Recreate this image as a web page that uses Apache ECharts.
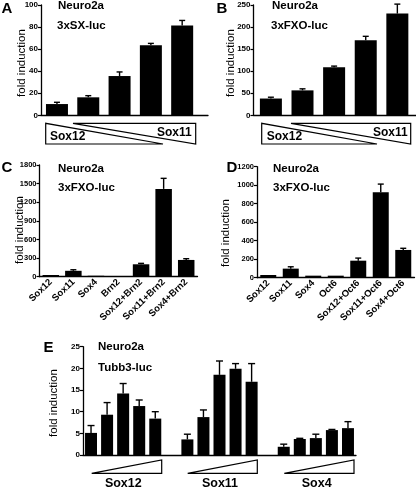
<!DOCTYPE html>
<html><head><meta charset="utf-8">
<script src="https://cdn.jsdelivr.net/npm/echarts@6/dist/echarts.min.js"></script>
<style>html,body{margin:0;padding:0;background:#fff}#c{width:416px;height:489px}</style>
</head><body><div id="c"></div>
<script>
// ---- data ----
const valuesA = [10.2, 16.3, 35.6, 63.5, 81.5];
const errorsA = [11.8, 17.8, 39.3, 65.2, 86.0];
const ticksA = [0, 20, 40, 60, 80, 100];

const valuesB = [38, 56.5, 109, 170, 230.5];
const errorsB = [41, 60, 111.5, 179, 252];
const ticksB = [0, 50, 100, 150, 200, 250];

const categoriesC = ['Sox12', 'Sox11', 'Sox4', 'Brn2', 'Sox12+Brn2', 'Sox11+Brn2', 'Sox4+Brn2'];
const valuesC = [27, 95, 15, 10, 200, 1415, 270];
const errorsC = [27, 112, 15, 10, 215, 1585, 290];
const ticksC = [0, 300, 600, 900, 1200, 1500, 1800];

const categoriesD = ['Sox12', 'Sox11', 'Sox4', 'Oct6', 'Sox12+Oct6', 'Sox11+Oct6', 'Sox4+Oct6'];
const valuesD = [29, 98, 22, 22, 184, 925, 300];
const errorsD = [29, 118, 22, 22, 212, 1012, 318];
const ticksD = [0, 200, 400, 600, 800, 1000, 1200];

const groupsE = ['Sox12', 'Sox11', 'Sox4'];
const valuesE = [[5.1, 9.3, 14.2, 11.3, 8.4], [3.6, 8.75, 18.5, 19.9, 16.9], [1.9, 3.7, 3.9, 5.75, 6.2]];
const errorsE = [[6.8, 12.1, 16.5, 12.7, 10.0], [4.8, 10.4, 21.7, 21.1, 21.1], [2.5, 3.85, 4.8, 5.9, 7.7]];
const ticksE = [0, 5, 10, 15, 20, 25];

// ---- helpers ----
const FONT = "'Liberation Sans', Arial, sans-serif";
const BLACK = '#000';

function yAxisFor(gi, ticks, fs) {
  return {
    type: 'value', gridIndex: gi, min: ticks[0], max: ticks[ticks.length - 1],
    interval: ticks[1] - ticks[0],
    axisLine: { show: true, onZero: false, lineStyle: { color: BLACK, width: 1.3 } },
    axisTick: { show: true, length: 3, lineStyle: { color: BLACK, width: 1.2 } },
    axisLabel: { color: BLACK, fontSize: fs, fontWeight: 'bold', fontFamily: FONT, margin: 3,
      formatter: v => String(v) },
    splitLine: { show: false }
  };
}
function errItem(capHalf) {
  return function (params, api) {
    const x = api.value(0), v = api.value(1), e = api.value(2);
    if (!(e > v)) return;
    const p0 = api.coord([x, v]);
    const p1 = api.coord([x, e]);
    const st = { stroke: BLACK, lineWidth: 1.4 };
    return {
      type: 'group', children: [
        { type: 'line', shape: { x1: p0[0], y1: p0[1], x2: p1[0], y2: p1[1] }, style: st },
        { type: 'line', shape: { x1: p1[0] - capHalf, y1: p1[1], x2: p1[0] + capHalf, y2: p1[1] }, style: st }
      ]
    };
  };
}
function barSeries(xi, yi, data, w) {
  return { type: 'bar', xAxisIndex: xi, yAxisIndex: yi, data: data, barWidth: w,
    itemStyle: { color: BLACK }, silent: true, animation: false };
}
function errSeries(xi, yi, data, cap) {
  return { type: 'custom', xAxisIndex: xi, yAxisIndex: yi, data: data,
    encode: { x: 0, y: [1, 2] }, renderItem: errItem(cap), silent: true, animation: false, z: 3 };
}

// E categories with gaps between groups
const categoriesE = [];
const barE = [], errE = [];
groupsE.forEach((g, gi) => {
  valuesE[gi].forEach((v, k) => {
    const idx = categoriesE.length;
    categoriesE.push(g + ' ' + (k + 1));
    barE.push(v);
    errE.push([idx, v, errorsE[gi][k]]);
  });
  if (gi < groupsE.length - 1) { categoriesE.push(''); barE.push('-'); }
});

const grids = [
  { left: 41, top: 5, width: 167, height: 110.3 },
  { left: 253.5, top: 5, width: 162.5, height: 110.3 },
  { left: 39.5, top: 165, width: 158, height: 111.7 },
  { left: 257, top: 166.7, width: 157.5, height: 111 },
  { left: 83, top: 346.7, width: 273, height: 108.3 }
].map(g => Object.assign({ outerBoundsMode: 'none', containLabel: false }, g));

const plainX = (gi, min, max) => ({
  type: 'value', gridIndex: gi, min: min, max: max,
  axisLine: { show: true, onZero: false, lineStyle: { color: BLACK, width: 1.3 } },
  axisTick: { show: false }, axisLabel: { show: false }, splitLine: { show: false }
});
const catX = (gi, cats, showLabels) => ({
  type: 'category', gridIndex: gi, data: cats,
  axisLine: { show: true, onZero: false, lineStyle: { color: BLACK, width: 1.3 } },
  axisTick: { show: false },
  axisLabel: { show: showLabels, interval: 0, rotate: 44, margin: 4, color: BLACK,
    fontSize: 9.5, fontWeight: 'bold', fontFamily: FONT },
  splitLine: { show: false }
});

const xAxes = [
  plainX(0, -0.51, 4.825),
  plainX(1, -0.55, 4.59),
  catX(2, categoriesC, true),
  catX(3, categoriesD, true),
  catX(4, categoriesE, false)
];
const yAxes = [yAxisFor(0, ticksA, 8), yAxisFor(1, ticksB, 8), yAxisFor(2, ticksC, 7.5),
  yAxisFor(3, ticksD, 7.5), yAxisFor(4, ticksE, 8)];

const series = [
  barSeries(0, 0, valuesA.map((v, i) => [i, v]), 22),
  errSeries(0, 0, valuesA.map((v, i) => [i, v, errorsA[i]]), 3),
  barSeries(1, 1, valuesB.map((v, i) => [i, v]), 22),
  errSeries(1, 1, valuesB.map((v, i) => [i, v, errorsB[i]]), 3),
  barSeries(2, 2, valuesC, 16.5),
  errSeries(2, 2, valuesC.map((v, i) => [i, v, errorsC[i]]), 3),
  barSeries(3, 3, valuesD, 16),
  errSeries(3, 3, valuesD.map((v, i) => [i, v, errorsD[i]]), 3),
  barSeries(4, 4, barE, 12),
  errSeries(4, 4, errE, 3.5)
];

// ---- text / decoration ----
function txt(s, x, y, size, bold, extra) {
  return Object.assign({ type: 'text', x: x, y: y, silent: true,
    style: { text: s, fontSize: size, fontWeight: bold ? 'bold' : 'normal', fontFamily: FONT,
      fill: BLACK, align: 'left', verticalAlign: 'middle' } }, extra || {});
}
function ctxt(s, x, y, size, bold) {
  const t = txt(s, x, y, size, bold); t.style.align = 'center'; return t;
}
function vtitle(x, y) {
  const t = txt('fold induction', x, y, 11.5, false, { rotation: Math.PI / 2 });
  t.style.align = 'center'; return t;
}
function poly(pts) {
  return { type: 'polygon', silent: true, shape: { points: pts },
    style: { fill: '#fff', stroke: BLACK, lineWidth: 1.2 } };
}
const graphics = [
  ctxt('A', 7, 9, 15, true), ctxt('B', 222, 9, 15, true), ctxt('C', 7, 168, 15, true),
  ctxt('D', 232, 168, 15, true), ctxt('E', 48.5, 348, 15, true),
  txt('Neuro2a', 58, 6, 11.5, true), txt('3xSX-luc', 57, 26, 11.5, true),
  txt('Neuro2a', 272, 6, 11.5, true), txt('3xFXO-luc', 271, 26, 11.5, true),
  txt('Neuro2a', 58, 169, 11.5, true), txt('3xFXO-luc', 58, 188, 11.5, true),
  txt('Neuro2a', 273, 169, 11.5, true), txt('3xFXO-luc', 273, 188, 11.5, true),
  txt('Neuro2a', 98, 347, 11.5, true), txt('Tubb3-luc', 98, 368, 11.5, true),
  vtitle(22, 63), vtitle(231, 63), vtitle(20, 230), vtitle(226, 233), vtitle(54, 403),
  // A dose triangles
  poly([[45.7, 123.3], [45.7, 144], [163, 144]]),
  poly([[73, 123.3], [195.7, 123.3], [195.7, 144]]),
  txt('Sox12', 50, 137, 12, true), txt('Sox11', 157, 132.5, 12, true),
  // B dose triangles
  poly([[261.7, 123.3], [261.7, 144], [377, 144]]),
  poly([[291, 123.3], [410.7, 123.3], [410.7, 144]]),
  txt('Sox12', 266.7, 137, 12, true), txt('Sox11', 373, 132.5, 12, true),
  // E dose triangles
  poly([[91.7, 473.3], [161.7, 473.3], [161.7, 460]]),
  poly([[187.7, 473.3], [257.3, 473.3], [257.3, 460]]),
  poly([[284.3, 473.3], [354, 473.3], [354, 460]]),
  ctxt(groupsE[0], 123.3, 484, 12.5, true), ctxt(groupsE[1], 220, 484, 12.5, true),
  ctxt(groupsE[2], 316.7, 484, 12.5, true)
];

const chart = echarts.init(document.getElementById('c'), null, { renderer: 'canvas' });
chart.setOption({
  animation: false,
  backgroundColor: '#fff',
  grid: grids,
  xAxis: xAxes,
  yAxis: yAxes,
  series: series,
  graphic: graphics
});
</script>
</body></html>
